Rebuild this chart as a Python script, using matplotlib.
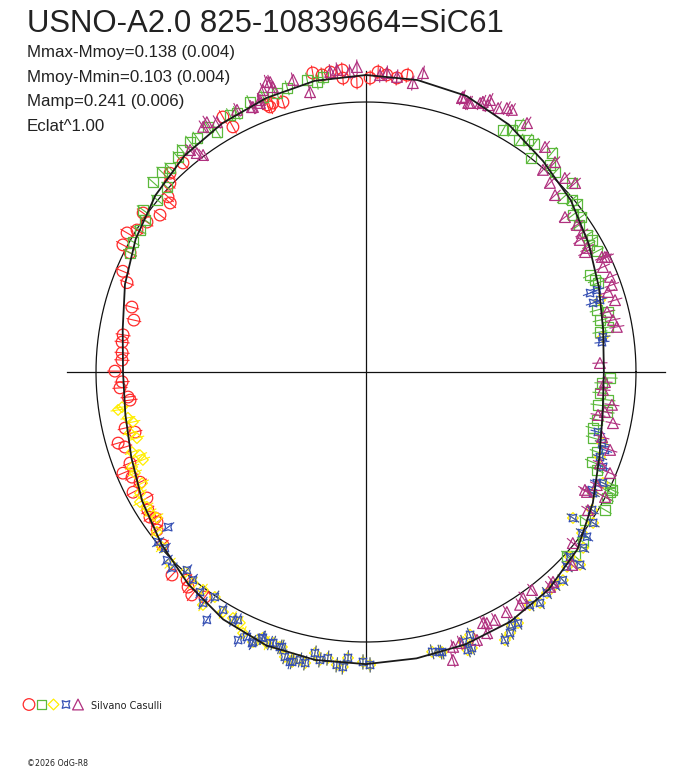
import numpy as np
import matplotlib.pyplot as plt
from matplotlib.collections import LineCollection

plt.rcParams['font.family'] = ['Liberation Sans', 'DejaVu Sans']

# phase angle (deg, clockwise from top) and radius (mean magnitude circle = 1)
fit_t = np.arange(0, 360, 10)
fit_r = [1.100, 1.098, 1.088, 1.058, 1.020, 0.990, 0.952, 0.918, 0.892, 0.881,
         0.890, 0.920, 0.970, 1.022, 1.052, 1.068, 1.074, 1.077, 1.082, 1.083,
         1.078, 1.058, 1.025, 0.990, 0.957, 0.925, 0.905, 0.900, 0.915, 0.950,
         0.985, 1.018, 1.046, 1.064, 1.080, 1.095]

red_t = [349.9, 351.6, 355.5, 358.2, 0.8, 2.3, 4.0, 6.0, 7.9, 355.5, 353.2, 340.9, 342.9, 339.7,
         340.1, 331.5, 330.7, 318.8, 315.4, 313.9, 311.5, 310.8, 307.3, 305.5, 304.4, 300.2, 297.6,
         301.8, 296.8, 285.5, 282.6, 278.7, 277.0, 274.5, 272.8, 270.2, 267.7, 266.3, 264.0, 263.2,
         256.9, 255.4, 254.0, 252.7, 248.9, 247.4, 245.8, 242.7, 244.0, 240.1, 237.7, 236.1, 234.3,
         235.3, 232.9, 229.6, 223.7, 220.7, 218.0, 215.6, 219.6, 290.5, 292.5]
red_r = [1.125, 1.112, 1.122, 1.075, 1.089, 1.112, 1.103, 1.095, 1.110, 1.092, 1.119, 1.054, 1.046, 1.055,
         1.044, 1.033, 1.083, 1.029, 1.034, 1.008, 0.979, 0.958, 0.959, 1.014, 0.983, 1.024, 1.016,
         0.998, 0.979, 0.900, 0.881, 0.910, 0.910, 0.906, 0.905, 0.930, 0.904, 0.913, 0.886, 0.880,
         0.916, 0.884, 0.955, 0.935, 0.937, 0.975, 0.950, 0.971, 0.931, 0.936, 0.956, 0.964, 0.953,
         0.950, 0.970, 0.988, 1.040, 1.016, 1.048, 1.025, 1.034, 0.945, 0.975]

green_t = [344.5, 342.3, 339.5, 336.7, 333.5, 332.1, 328.2, 327.2, 324.2, 322.6, 320.3, 318.8, 316.1,
           314.4, 311.7, 312.9, 309.5, 306.0, 304.5, 302.1, 299.2, 296.8, 350.4, 348.6, 351.7,
           29.5, 31.1, 31.9, 33.4, 34.9, 36.4, 37.6, 40.3, 41.6, 43.4, 47.5, 48.5, 50.1, 51.5, 52.8,
           54.2, 55.4, 58.2, 59.7, 60.3, 62.4,
           66.6, 68.1, 69.0, 75.0, 77.5, 76.1, 80.3, 79.5, 91.4, 92.7, 95.1, 96.6, 98.1, 99.4, 101.7,
           103.9, 106.2, 109.1, 111.7, 113.0, 114.5, 115.6,
           116.2, 117.6, 120.0, 124.0, 128.1, 132.5, 131.4]
green_r = [1.092, 1.085, 1.088, 1.088, 1.072, 1.077, 1.046, 1.080, 1.069, 1.073, 1.068, 1.058, 1.048,
           1.058, 1.057, 1.006, 1.003, 1.021, 0.993, 0.989, 0.988, 0.979, 1.089, 1.103, 1.104,
           1.030, 1.047, 1.078, 1.029, 1.048, 1.049, 1.001, 1.064, 1.026, 1.019, 1.035, 0.973, 0.994,
           0.999, 0.962, 0.982, 0.958, 0.963, 0.969, 0.950, 0.966,
           0.904, 0.914, 0.920, 0.886, 0.888, 0.923, 0.879, 0.912, 0.904, 0.875, 0.870, 0.902, 0.868,
           0.905, 0.874, 0.866, 0.876, 0.905, 0.901, 0.929, 0.993, 1.010,
           1.007, 1.007, 1.022, 0.979, 1.021, 1.009, 1.031]

yellow_t = [261.8, 261.3, 259.1, 257.9, 255.5, 253.9, 251.1, 249.8, 248.5, 247.9, 246.4, 243.6, 241.8,
            240.1, 238.4, 236.9, 235.1,
            232.6, 229.4, 225.7, 222.1, 219.4, 216.8, 213.9, 215.0, 210.8, 208.4, 206.7, 205.2, 202.1,
            200.1, 197.4, 194.4,
            202.7, 201.2, 198.9, 197.0, 195.9, 194.3, 192.9, 191.8, 190.3, 189.1, 187.6, 185.7, 184.5,
            183.6, 180.6, 179.2, 166.7, 165.2, 160.2, 158.4, 159.0,
            164.8, 159.9, 152.6, 151.1, 148.8, 150.0, 143.0, 144.9, 140.7, 138.4, 136.6, 134.1, 132.0,
            132.2, 129.0, 125.2, 126.7, 123.6, 121.4, 118.1, 115.1, 72.9, 81.6, 106.7, 110.0]
yellow_r = [0.913, 0.929, 0.898, 0.883, 0.903, 0.883, 0.916, 0.892, 0.888, 0.935, 0.934, 0.926, 0.950,
            0.966, 0.953, 0.955, 0.944,
            0.975, 0.996, 1.014, 0.999, 1.011, 1.008, 1.004, 1.053, 1.035, 1.036, 1.040, 1.069, 1.072,
            1.069, 1.067, 1.101,
            1.084, 1.056, 1.061, 1.065, 1.097, 1.108, 1.094, 1.101, 1.058, 1.080, 1.069, 1.090, 1.096,
            1.061, 1.074, 1.085, 1.065, 1.073, 1.063, 1.047, 1.095,
            1.075, 1.097, 1.118, 1.104, 1.087, 1.082, 1.071, 1.055, 1.058, 1.055, 1.061, 1.037, 1.067,
            1.020, 1.035, 0.938, 0.998, 1.010, 0.981, 0.953, 0.969, 0.907, 0.887, 0.913, 0.922]

blue_t = [231.9, 230.7, 228.8, 226.6, 224.7, 222.1, 219.8, 217.0, 213.9, 215.2, 212.7, 211.0, 208.2,
          207.3, 205.5, 204.2, 202.8, 201.4, 199.5, 197.4, 194.7,
          202.7, 201.2, 198.9, 197.0, 195.9, 194.3, 192.9, 191.8, 190.3, 189.1, 187.6, 185.7, 184.5,
          183.6, 180.6, 179.2, 166.7, 165.2, 160.2, 158.4, 159.0,
          164.8, 159.9, 152.6, 151.1, 148.8, 150.0, 143.0, 144.9, 140.7, 138.4, 136.6, 134.1, 132.0,
          132.2, 129.0, 125.2, 126.7, 126.7, 123.6, 121.4, 118.1, 115.1,
          70.6, 70.5, 72.9, 73.1, 81.6, 82.8, 104.5, 106.7, 108.1, 110.0, 111.8, 115.7, 117.6]
blue_r = [0.931, 0.995, 0.990, 1.014, 1.021, 0.989, 1.002, 1.021, 1.004, 1.047, 1.091, 1.028, 1.042,
          1.034, 1.100, 1.076, 1.089, 1.058, 1.065, 1.067, 1.110,
          1.084, 1.056, 1.061, 1.065, 1.097, 1.108, 1.094, 1.101, 1.058, 1.080, 1.069, 1.090, 1.096,
          1.061, 1.074, 1.085, 1.065, 1.073, 1.063, 1.047, 1.095,
          1.075, 1.097, 1.118, 1.104, 1.087, 1.082, 1.071, 1.055, 1.058, 1.055, 1.061, 1.037, 1.067,
          1.020, 1.035, 0.938, 0.998, 1.021, 1.010, 0.981, 0.953, 0.969,
          0.880, 0.908, 0.907, 0.879, 0.887, 0.881, 0.887, 0.913, 0.931, 0.922, 0.946, 0.949, 0.944]

purple_t = [336.7, 338.7, 341.7, 341.9, 346.0, 348.7, 353.2, 354.5, 358.3, 356.9, 2.7, 4.0, 6.0, 9.2,
            10.8, 19.4, 21.1, 23.4, 24.6,
            341.1, 339.9, 338.5, 336.9, 333.8, 329.2, 327.5, 326.4, 321.6, 322.3, 323.1,
            19.3, 20.8, 23.0, 24.5, 26.6, 28.1, 29.1, 32.9, 38.5, 42.0, 41.2, 45.7, 44.2, 47.9, 46.9,
            52.1, 55.1, 57.2, 58.3, 60.7, 64.0, 64.5,
            61.3, 64.3, 66.1, 68.7, 70.5, 71.7, 73.9, 76.0, 78.1, 79.8, 87.8, 92.4, 94.3, 97.6, 99.5,
            101.7, 100.5, 105.4, 107.7, 111.3, 112.5, 118.3, 117.6,
            118.5, 116.1, 121.9, 129.6, 133.1, 138.3, 139.4, 142.7, 145.2, 146.5, 149.6, 152.5, 154.3,
            157.5, 160.9, 162.4, 163.2, 155.0, 155.1]
purple_r = [1.068, 1.081, 1.131, 1.110, 1.115, 1.057, 1.119, 1.124, 1.130, 1.113, 1.101, 1.110, 1.099,
            1.084, 1.127, 1.080, 1.068, 1.090, 1.087,
            1.135, 1.112, 1.071, 1.067, 1.082, 1.078, 1.097, 1.090, 1.049, 1.025, 1.005,
            1.075, 1.066, 1.082, 1.107, 1.093, 1.108, 1.111, 1.098, 1.065, 1.046, 0.995, 1.029, 0.977,
            1.044, 0.959, 0.934, 0.952, 0.951, 0.931, 0.939, 0.972, 0.989,
            0.925, 0.982, 0.960, 0.970, 0.966, 0.944, 0.960, 0.920, 0.935, 0.944, 0.867, 0.886, 0.880,
            0.919, 0.897, 0.934, 0.874, 0.907, 0.949, 0.930, 0.978, 0.921, 0.999,
            0.931, 0.952, 0.968, 0.994, 1.046, 1.041, 1.048, 1.015, 1.019, 1.034, 1.031, 1.035, 1.032,
            1.074, 1.062, 1.068, 1.114, 1.026, 1.066]

title = "USNO-A2.0 825-10839664=SiC61"
stats = ["Mmax-Mmoy=0.138 (0.004)", "Mmoy-Mmin=0.103 (0.004)", "Mamp=0.241 (0.006)", "Eclat^1.00"]
observer = "Silvano Casulli"
credit = "\u00a92026 OdG-R8"

series = [
    (red_t, red_r, 'o', 70, '#ff2a2a'),
    (green_t, green_r, 's', 48, '#5cb93c'),
    (yellow_t, yellow_r, 'D', 30, '#ffee00'),
    (blue_t, blue_r, (4, 1, 45), 60, '#3650b4'),
    (purple_t, purple_r, '^', 60, '#b0307f'),
]


def polar_xy(t, r):
    a = np.radians(np.asarray(t, float))
    r = np.asarray(r, float)
    return r * np.sin(a), r * np.cos(a)


fig = plt.figure(figsize=(6.88, 7.68), dpi=100)

# overlay in pixel coordinates for texts and the legend row
ov = fig.add_axes([0, 0, 1, 1])
ov.set_xlim(0, 688)
ov.set_ylim(768, 0)
ov.axis('off')

ax = fig.add_axes([42 / 688, 72 / 768, 648 / 688, 648 / 768])
ax.set_xlim(-1.2, 1.2)
ax.set_ylim(-1.2, 1.2)
ax.axis('off')

# reference circle (mean magnitude) and axes
a = np.linspace(0, 2 * np.pi, 400)
ax.plot(np.cos(a), np.sin(a), color='#111111', lw=0.9, zorder=1)
ax.plot([-1.107, 1.107], [0, 0], color='#111111', lw=0.9, zorder=1)
ax.plot([0, 0], [-1.095, 1.115], color='#111111', lw=0.9, zorder=1)

err = 0.028
for t, r, m, s, c in series:
    x, y = polar_xy(t, r)
    x0, y0 = polar_xy(t, np.asarray(r) - err)
    x1, y1 = polar_xy(t, np.asarray(r) + err)
    segs = np.stack([np.column_stack([x0, y0]), np.column_stack([x1, y1])], axis=1)
    ax.add_collection(LineCollection(segs, colors=c, linewidths=0.8, zorder=2))
    ax.scatter(x, y, s=s, marker=m, facecolors='none', edgecolors=c, linewidths=0.9, zorder=2)

# fitted light curve
fx, fy = polar_xy(np.append(fit_t, 360), np.append(fit_r, fit_r[0]))
ax.plot(fx, fy, color='#1a1a1a', lw=1.3, zorder=3)

# texts
ov.text(27, 32, title, fontsize=22.4, color='#222222', va='baseline', ha='left')
for i, line in enumerate(stats):
    ov.text(27, 57 + i * 24.7, line, fontsize=12.2, color='#222222', va='baseline', ha='left')

for (t, r, m, s, c), lx in zip(series, [29, 41.5, 53.5, 66, 78]):
    ov.scatter([lx], [704.5], s=s, marker=m, facecolors='none', edgecolors=c, linewidths=0.9)
ov.text(91, 709, observer, fontsize=7, color='#222222', va='baseline', ha='left', family='DejaVu Sans')
ov.text(27, 766, credit, fontsize=5.7, color='#222222', va='baseline', ha='left', family='DejaVu Sans')

fig.savefig('out.png', dpi=100)
